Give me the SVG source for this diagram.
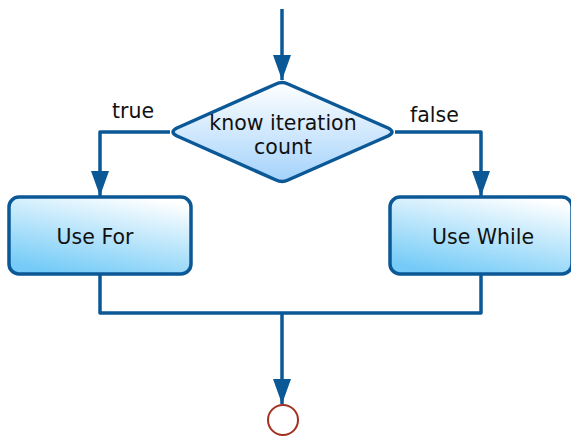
<svg xmlns="http://www.w3.org/2000/svg" width="571" height="436" viewBox="0 0 571 436">
  <style>
    .shape { stroke: #0b5897; stroke-width: 3.5; stroke-linejoin: round; }
    .wire { fill: none; stroke: #0b5897; stroke-width: 3.5; stroke-linejoin: round; }
    .label { font-family: "DejaVu Sans", sans-serif; font-size: 20.5px; fill: #111; text-anchor: middle; }
    .edge-label { font-family: "DejaVu Sans", sans-serif; font-size: 20.5px; fill: #111; }
  </style>
  <defs>
    <linearGradient id="diamondFill" x1="0" y1="0" x2="0" y2="1">
      <stop offset="0" stop-color="#ffffff"/>
      <stop offset="1" stop-color="#a3d2fb"/>
    </linearGradient>
    <linearGradient id="boxFill" x1="0.75" y1="0" x2="0.3" y2="1">
      <stop offset="0" stop-color="#ffffff"/>
      <stop offset="1" stop-color="#74cbf7"/>
    </linearGradient>
    <marker id="arrowHead" viewBox="0 0 25 18" refX="25" refY="9" markerWidth="25" markerHeight="18" markerUnits="userSpaceOnUse" orient="auto">
      <path d="M0,0 L25,9 L0,18 Z" fill="#0b5897"/>
    </marker>
  </defs>

  <!-- connectors -->
  <g id="connectors">
    <path class="wire" d="M282,9 L282,80" marker-end="url(#arrowHead)"/>
    <path class="wire" d="M170,132 L100,132 L100,196" marker-end="url(#arrowHead)"/>
    <path class="wire" d="M395,132 L481,132 L481,196" marker-end="url(#arrowHead)"/>
    <path class="wire" d="M100,275 L100,313 L481,313 L481,275"/>
    <path class="wire" d="M282,313 L282,404" marker-end="url(#arrowHead)"/>
    <text class="edge-label" x="112" y="118">true</text>
    <text class="edge-label" x="410" y="122">false</text>
  </g>

  <g id="decision">
    <path class="shape" fill="url(#diamondFill)" d="M276,84 Q282,81 288,84 L388,128 Q396,132 388,136 L288,180 Q282,183 276,180 L177,136 Q169,132 177,128 Z"/>
    <text class="label" x="283" y="130">know iteration</text>
    <text class="label" x="283" y="154">count</text>
  </g>

  <g id="use-for">
    <rect class="shape" fill="url(#boxFill)" x="9" y="197" width="182" height="77" rx="10"/>
    <text class="label" x="95" y="244">Use For</text>
  </g>

  <g id="use-while">
    <rect class="shape" fill="url(#boxFill)" x="390" y="197" width="182" height="77" rx="10"/>
    <text class="label" x="483" y="244">Use While</text>
  </g>

  <g id="end">
    <circle cx="283" cy="420" r="15" fill="#ffffff" stroke="#a3301f" stroke-width="2"/>
  </g>
</svg>
